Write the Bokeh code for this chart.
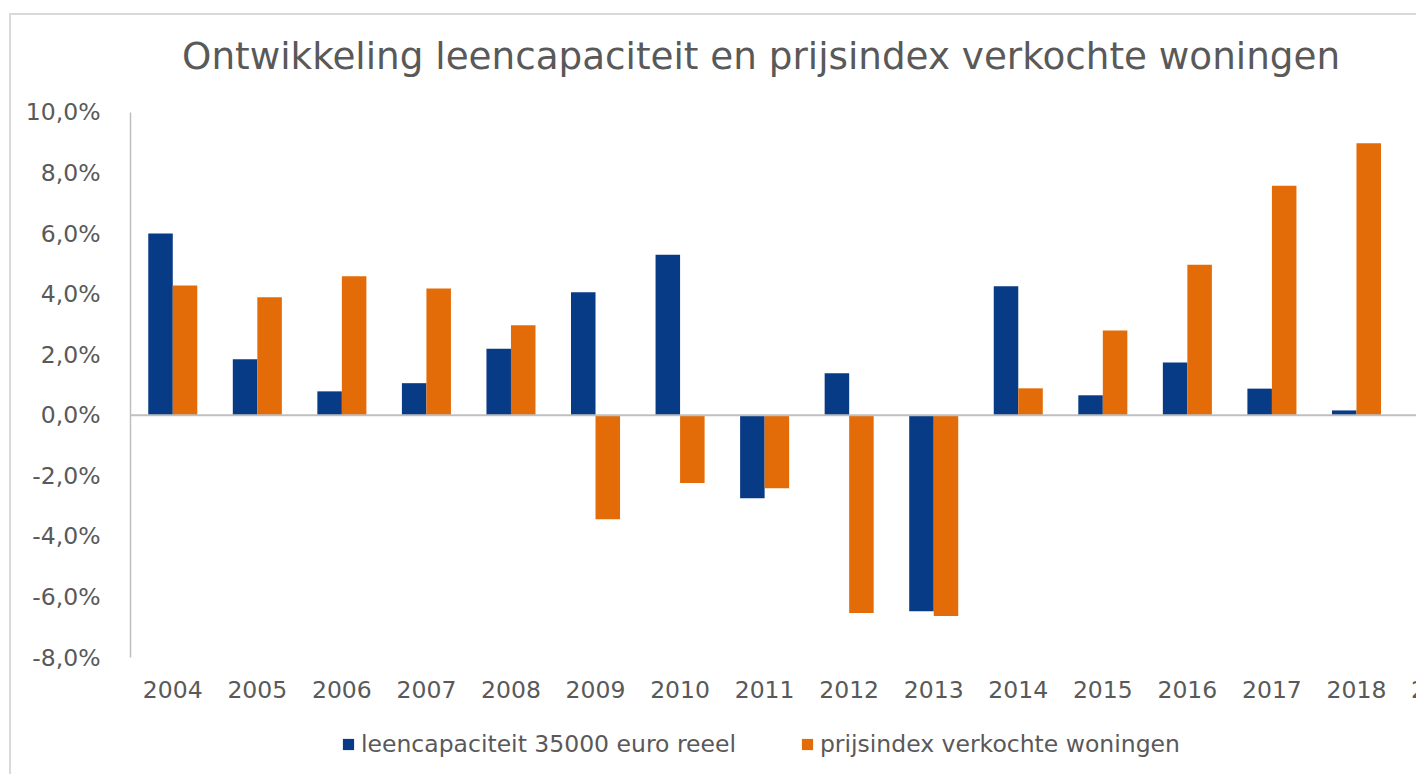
from bokeh.plotting import figure
from bokeh.models import ColumnDataSource, FixedTicker, Span, Legend, LegendItem, Label, Range1d
from bokeh.transform import dodge
from bokeh.core.properties import value
from bokeh.embed import file_html
from bokeh.resources import INLINE

years = [2004, 2005, 2006, 2007, 2008, 2009, 2010, 2011, 2012, 2013, 2014, 2015, 2016, 2017, 2018]
leencapaciteit = [6.0, 1.85, 0.79, 1.06, 2.2, 4.06, 5.3, -2.74, 1.39, -6.47, 4.26, 0.66, 1.74, 0.88, 0.16]
prijsindex = [4.29, 3.9, 4.59, 4.19, 2.97, -3.43, -2.24, -2.41, -6.53, -6.63, 0.89, 2.8, 4.97, 7.58, 8.98]
x_tick_years = [2004, 2005, 2006, 2007, 2008, 2009, 2010, 2011, 2012, 2013, 2014, 2015, 2016, 2017, 2018, 2019]
x_tick_labels = ["2004", "2005", "2006", "2007", "2008", "2009", "2010", "2011", "2012", "2013",
                 "2014", "2015", "2016", "2017", "2018", "2019"]
y_ticks = [-8, -6, -4, -2, 0, 2, 4, 6, 8, 10]
y_labels = ["-8,0%", "-6,0%", "-4,0%", "-2,0%", "0,0%", "2,0%", "4,0%", "6,0%", "8,0%", "10,0%"]
series_names = ["leencapaciteit 35000 euro reeel", "prijsindex verkochte woningen"]
title_text = "Ontwikkeling leencapaciteit en prijsindex verkochte woningen"

BLUE = "#083b86"
ORANGE = "#e36c09"
GRAY = "#595959"
FONT = "DejaVu Sans"
FS = "23.5px"

Y_BOTTOM, Y_TOP = -11.864, 13.203

src = ColumnDataSource(dict(x=years, a=leencapaciteit, b=prijsindex))
lab_src = ColumnDataSource(dict(x=x_tick_years, t=x_tick_labels, y=[-9.07] * len(x_tick_years)))

p = figure(width=1405, height=759, output_backend="svg", toolbar_location=None,
           x_range=Range1d(2003.5, 2018.71), y_range=Range1d(Y_BOTTOM, Y_TOP),
           x_axis_location=None,
           min_border_left=119, min_border_right=0, min_border_top=0, min_border_bottom=0)
p.frame_width = 1286
p.frame_height = 759
p.background_fill_color = "white"
p.border_fill_color = "white"
p.outline_line_color = None
p.xgrid.visible = False
p.ygrid.visible = False

w = 0.29
r1 = p.vbar(x=dodge("x", -0.145), top="a", bottom=0, width=w, source=src,
            fill_color=BLUE, line_color=None)
r2 = p.vbar(x=dodge("x", 0.145), top="b", bottom=0, width=w, source=src,
            fill_color=ORANGE, line_color=None)

p.add_layout(Span(location=0, dimension="width", line_color="#bfbfbf", line_width=2))

p.yaxis.ticker = FixedTicker(ticks=y_ticks)
p.yaxis.major_label_overrides = {t: l for t, l in zip(y_ticks, y_labels)}
p.yaxis.bounds = (-8, 10)
p.yaxis.axis_line_color = "#bfbfbf"
p.yaxis.axis_line_width = 1.5
p.yaxis.major_tick_line_color = None
p.yaxis.minor_tick_line_color = None
p.yaxis.major_label_text_font = FONT
p.yaxis.major_label_text_font_size = FS
p.yaxis.major_label_text_color = GRAY
p.yaxis.major_label_standoff = 24

# category (x) labels
p.text(x="x", y="y", text="t", source=lab_src, text_align="center", text_baseline="alphabetic",
       text_font=value(FONT), text_font_size=FS, text_color=GRAY)

p.add_layout(Label(x=2004.11, y=11.86, text=title_text, text_align="left",
                   text_baseline="alphabetic", text_font=FONT, text_font_size="37.3px",
                   text_color=GRAY))

legend = Legend(items=[LegendItem(label=series_names[0], renderers=[r1]),
                       LegendItem(label=series_names[1], renderers=[r2])],
                orientation="horizontal", location=(211, 16),
                label_text_font=FONT, label_text_font_size=FS, label_text_color=GRAY,
                glyph_width=14, glyph_height=14, label_standoff=6, spacing=64,
                label_height=24, border_line_color=None, background_fill_alpha=0,
                padding=0, margin=0)
p.add_layout(legend, "center")

p.styles = {"border-left": "2px solid #d9d9d9", "border-top": "2px solid #d9d9d9",
            "margin-left": "9px", "margin-top": "13px"}

open("out.html", "w").write(file_html(p, INLINE))
